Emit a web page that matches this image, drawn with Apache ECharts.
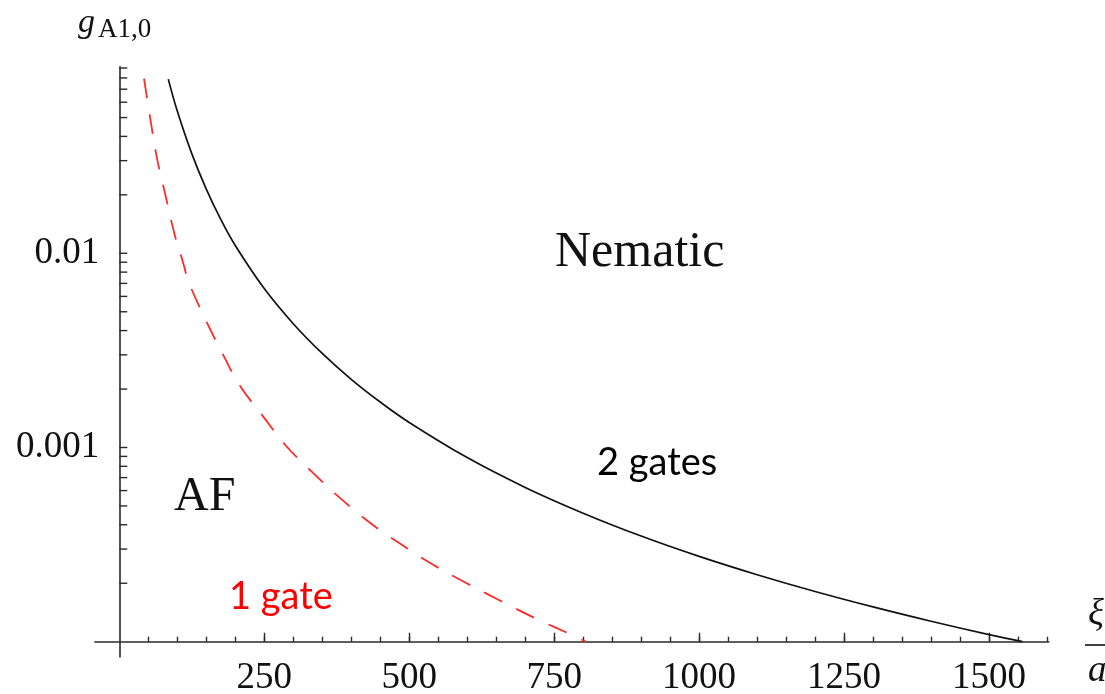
<!DOCTYPE html>
<html>
<head>
<meta charset="utf-8">
<script src="https://cdn.jsdelivr.net/npm/echarts@6/dist/echarts.min.js"></script>
<style>
  html, body { margin: 0; padding: 0; background: #ffffff; }
  #chart { width: 1105px; height: 694px; }
</style>
</head>
<body>
<div id="chart"></div>
<script>
// Phase boundary between AF and nematic order: coupling g_A1,0 against ξ/a.
// Two-gate boundary (solid black line).
const twoGateXi = [84.5, 100, 125, 150, 175, 200, 250, 300, 350, 400,
                   450, 500, 600, 700, 800, 900, 1000, 1100, 1200, 1300,
                   1400, 1500, 1557.8];
const twoGateG  = [0.0789, 0.0540, 0.0326, 0.0214, 0.01495, 0.01097, 0.00658, 0.00434, 0.00305, 0.002244,
                   0.001714, 0.001346, 0.000887, 0.000623, 0.000459, 0.000350, 0.000275, 0.0002213, 0.0001813, 0.0001510,
                   0.0001274, 0.0001087, 0.0001];

// One-gate boundary (red dashed line).
const oneGateXi = [42.6, 52.9, 64.5, 78.8, 96.0, 110.3, 119.0, 144.8, 176.6, 208.1,
                   248.3, 288.6, 334.5, 380.5, 432.2, 484.0, 541.4, 599.0, 656.4, 719.7,
                   780.0, 805.0];
const oneGateG  = [0.0794, 0.0505, 0.0314, 0.0204, 0.01230, 0.00890, 0.00720, 0.00482, 0.00310, 0.00208,
                   0.001442, 0.001012, 0.000738, 0.000550, 0.000410, 0.000320, 0.000249, 0.000200, 0.000163, 0.0001310,
                   0.0001085, 0.0001];

// Axis ticks and labels
const xLabelTicks = [250, 500, 750, 1000, 1250, 1500];
const xMinorTicks = [50, 100, 150, 200, 250, 300, 350, 400, 450, 500, 550, 600, 650, 700, 750, 800,
                     850, 900, 950, 1000, 1050, 1100, 1150, 1200, 1250, 1300, 1350, 1400, 1450, 1500, 1550, 1600];
const yLabelTicks = [0.001, 0.01];
const yTickValues = [0.09, 0.08, 0.07, 0.06, 0.05, 0.04, 0.03, 0.02, 0.01,
                     0.009, 0.008, 0.007, 0.006, 0.005, 0.004, 0.003, 0.002, 0.001,
                     0.0009, 0.0008, 0.0007, 0.0006, 0.0005, 0.0004, 0.0003, 0.0002];

// Plot range and frame
const X_MIN = -42, X_MAX = 1603;
const Y_MIN = 8.34e-5, Y_MAX = 0.0914;
const Y_CROSS = 1e-4;               // x axis runs along g = 1e-4
const GRID = { left: 94.95, top: 66.7, width: 953.8, height: 590.3 };
const AXIS_COLOR = '#2a2a2a';
const SERIF = '"Liberation Serif", "DejaVu Serif", serif';
const SANS = 'Lato, "Open Sans", sans-serif';

const lg = Math.log10;
const yAxisShift = -(0 - X_MIN) / (X_MAX - X_MIN) * GRID.width;
const xAxisShift = -(lg(Y_CROSS) - lg(Y_MIN)) / (lg(Y_MAX) - lg(Y_MIN)) * GRID.height;

const pairs = (xs, ys) => xs.map((x, i) => [x, ys[i]]);

const chart = echarts.init(document.getElementById('chart'), null, { renderer: 'canvas' });

chart.setOption({
  animation: false,
  backgroundColor: '#ffffff',
  grid: {
    left: GRID.left, top: GRID.top, width: GRID.width, height: GRID.height,
    containLabel: false, outerBoundsMode: 'none'
  },
  xAxis: [
    {
      type: 'value', min: X_MIN, max: X_MAX, position: 'bottom', offset: xAxisShift,
      axisLine: { show: true, onZero: false, lineStyle: { color: AXIS_COLOR, width: 1.6 } },
      axisTick: { show: true, inside: true, length: 9, customValues: xLabelTicks,
                  lineStyle: { color: AXIS_COLOR, width: 1.4 } },
      axisLabel: { show: true, customValues: xLabelTicks, margin: 18,
                   formatter: v => String(v),
                   fontFamily: SERIF, fontSize: 37, color: '#111111' },
      splitLine: { show: false }
    },
    {
      type: 'value', min: X_MIN, max: X_MAX, position: 'bottom', offset: xAxisShift,
      axisLine: { show: false, onZero: false },
      axisTick: { show: true, inside: true, length: 5, customValues: xMinorTicks,
                  lineStyle: { color: AXIS_COLOR, width: 1.4 } },
      axisLabel: { show: false },
      splitLine: { show: false }
    }
  ],
  yAxis: {
    type: 'log', logBase: 10, min: Y_MIN, max: Y_MAX, position: 'left', offset: yAxisShift,
    axisLine: { show: true, onZero: false, lineStyle: { color: AXIS_COLOR, width: 1.6 } },
    axisTick: { show: false },
    axisLabel: {
      show: true, margin: 20, fontFamily: SERIF, fontSize: 37, color: '#111111',
      showMinLabel: false, showMaxLabel: false,
      formatter: v => {
        for (const t of yLabelTicks) {
          if (Math.abs(lg(v) - lg(t)) < 1e-6) return String(t);
        }
        return '';
      }
    },
    splitLine: { show: false }
  },
  series: [
    {
      name: '2 gates', type: 'line', xAxisIndex: 0, data: pairs(twoGateXi, twoGateG),
      showSymbol: false, smooth: 0.4, silent: true,
      lineStyle: { color: '#111111', width: 1.7 }, z: 4
    },
    {
      name: '1 gate', type: 'line', xAxisIndex: 0, data: pairs(oneGateXi, oneGateG),
      showSymbol: false, smooth: 0.4, silent: true,
      lineStyle: { color: '#ff2a2a', width: 1.8, type: [20, 16] }, z: 4
    },
    {
      // tick marks of the logarithmic g axis, at every 1–9 multiple of each decade
      name: 'gTicks', type: 'custom', xAxisIndex: 0, silent: true, z: 5,
      data: yTickValues.map(v => [0, v]),
      renderItem: (params, api) => {
        const p = api.coord([0, api.value(1)]);
        return {
          type: 'line',
          shape: { x1: p[0], y1: p[1], x2: p[0] + 8, y2: p[1] },
          style: { stroke: AXIS_COLOR, lineWidth: 1.4 }
        };
      }
    }
  ],
  graphic: [
    // axis title g_A1,0
    { type: 'text', left: 78, top: 6, silent: true,
      style: { text: 'g', fontFamily: SERIF, fontStyle: 'italic', fontSize: 34, fill: '#111111' } },
    { type: 'text', left: 98, top: 16, silent: true,
      style: { text: 'A1,0', fontFamily: SERIF, fontSize: 27, fill: '#111111' } },
    // axis title ξ/a
    { type: 'text', left: 1088, top: 597, silent: true,
      style: { text: 'ξ', fontFamily: SERIF, fontStyle: 'italic', fontSize: 37, fill: '#111111' } },
    { type: 'line', silent: true,
      shape: { x1: 1085, y1: 645, x2: 1110, y2: 645 }, style: { stroke: '#111111', lineWidth: 1.6 } },
    { type: 'text', left: 1088, top: 653, silent: true,
      style: { text: 'a', fontFamily: SERIF, fontStyle: 'italic', fontSize: 37, fill: '#111111' } },
    // region and curve labels
    { type: 'text', left: 555, top: 228, silent: true,
      style: { text: 'Nematic', fontFamily: SERIF, fontSize: 50, fill: '#111111' } },
    { type: 'text', left: 174, top: 473, silent: true,
      style: { text: 'AF', fontFamily: SERIF, fontSize: 48, fill: '#111111' } },
    { type: 'text', left: 597, top: 444, silent: true,
      style: { text: '2 gates', fontFamily: SANS, fontSize: 38, fill: '#000000' } },
    { type: 'text', left: 229, top: 578, silent: true,
      style: { text: '1 gate', fontFamily: SANS, fontSize: 38, fill: '#ff0000' } }
  ]
});
</script>
</body>
</html>
